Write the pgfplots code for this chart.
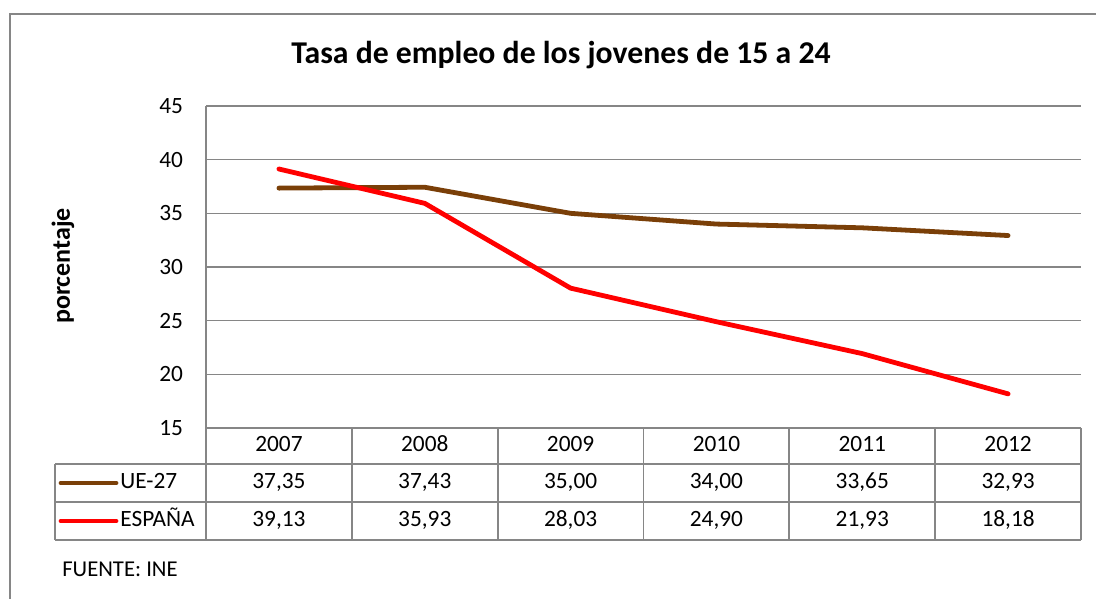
\documentclass[border=0pt]{standalone}
\usepackage{pgfplots}
\pgfplotsset{compat=1.18}
\usepackage{fontspec}
\setmainfont{Carlito}
\definecolor{ue}{RGB}{122,63,8}
\definecolor{gridc}{RGB}{134,134,134}
\begin{document}
\begin{tikzpicture}
\begin{scope}[x=0.75pt,y=0.75pt]
\useasboundingbox (0,0) rectangle (1096,599);
\draw[gridc, line width=1.5pt] (10,-10) -- (10,585) -- (1110,585);
\node[font=\bfseries\fontsize{23.8}{28}\selectfont] at (561,544) {Tasa de empleo de los jovenes de 15 a 24};
\node[font=\bfseries\fontsize{19.5}{23}\selectfont, rotate=90] at (63,333) {porcentaje};
\end{scope}
\begin{axis}[
  at={(154.5pt,128.25pt)}, anchor=south west,
  scale only axis, width=656.25pt, height=241.5pt,
  xmin=-0.5, xmax=5.5, ymin=15, ymax=45,
  ytick={15,20,...,45}, xtick=\empty,
  axis x line*=bottom, axis y line*=left,
  axis line style={gridc, line width=1pt, -},
  ymajorgrids, grid style={gridc, line width=0.9pt},
  major tick length=0pt,
  yticklabel style={font=\fontsize{17.5}{20}\selectfont, inner sep=0pt, xshift=-17pt},
  /pgf/number format/assume math mode=true,
  clip=false,
]
\addplot[ue, line width=3.6pt, line cap=round, line join=round] coordinates {
(0,37.35) (1,37.43) (2,35.00) (3,34.00) (4,33.65) (5,32.93)};
\addplot[red, line width=3.6pt, line cap=round, line join=round] coordinates {
(0,39.13) (1,35.93) (2,28.03) (3,24.90) (4,21.93) (5,18.18)};
% data table
\draw[gridc, line width=1.3pt] (axis cs:-0.5,15) -- (axis cs:5.5,15);
\draw[gridc, line width=1.3pt] (axis cs:-1.535,11.646) -- (axis cs:5.5,11.646);
\draw[gridc, line width=1.3pt] (axis cs:-1.535,8.105) -- (axis cs:5.5,8.105);
\draw[gridc, line width=1.3pt] (axis cs:-1.535,4.565) -- (axis cs:5.5,4.565);
\draw[gridc, line width=1.3pt] (axis cs:-1.535,4.565) -- (axis cs:-1.535,11.646);
\pgfplotsinvokeforeach{-0.5,0.5,1.5,2.5,3.5,4.5,5.5}{
  \draw[gridc, line width=1.3pt] (axis cs:#1,4.565) -- (axis cs:#1,15);
}
\begin{scope}[font=\fontsize{17.5}{20}\selectfont, every node/.style={anchor=base, inner sep=0pt}]
\node at (axis cs:0,12.85) {2007};
\node at (axis cs:1,12.85) {2008};
\node at (axis cs:2,12.85) {2009};
\node at (axis cs:3,12.85) {2010};
\node at (axis cs:4,12.85) {2011};
\node at (axis cs:5,12.85) {2012};
\node at (axis cs:0,9.38) {37,35};
\node at (axis cs:1,9.38) {37,43};
\node at (axis cs:2,9.38) {35,00};
\node at (axis cs:3,9.38) {34,00};
\node at (axis cs:4,9.38) {33,65};
\node at (axis cs:5,9.38) {32,93};
\node at (axis cs:0,5.84) {39,13};
\node at (axis cs:1,5.84) {35,93};
\node at (axis cs:2,5.84) {28,03};
\node at (axis cs:3,5.84) {24,90};
\node at (axis cs:4,5.84) {21,93};
\node at (axis cs:5,5.84) {18,18};
\node[anchor=base west] at (axis cs:-1.089,9.38) {UE-27};
\node[anchor=base west] at (axis cs:-1.089,5.84) {ESPAÑA};
\node[anchor=base west, font=\fontsize{17}{20}\selectfont] at (axis cs:-1.487,1.2) {FUENTE: INE};
\end{scope}
\draw[ue, line width=3.6pt, line cap=round] (axis cs:-1.494,9.876) -- (axis cs:-1.117,9.876);
\draw[red, line width=3.6pt, line cap=round] (axis cs:-1.494,6.335) -- (axis cs:-1.117,6.335);
\end{axis}
\end{tikzpicture}
\end{document}
